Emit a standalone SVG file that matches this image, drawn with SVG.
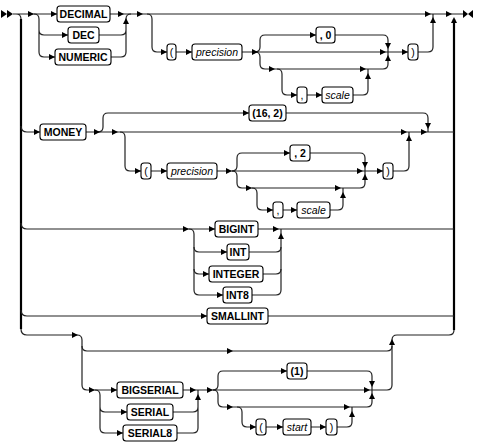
<svg xmlns="http://www.w3.org/2000/svg" xmlns:xlink="http://www.w3.org/1999/xlink" width="479" height="447" viewBox="0 0 479 447">
<style>
.ln{fill:none;stroke:#222;stroke-width:1.2}
.tk{fill:none;stroke:#000;stroke-width:2.2}
.bx{fill:#fff;stroke:#000;stroke-width:1.1}
.kw{font-family:"Liberation Sans",Arial,sans-serif;font-size:10.5px;font-weight:bold;fill:#000;text-anchor:middle}
.pn{font-family:"Liberation Sans",Arial,sans-serif;font-size:10.5px;fill:#000;text-anchor:middle}
.it{font-family:"Liberation Sans",Arial,sans-serif;font-size:10.5px;font-style:italic;fill:#000;text-anchor:middle}
.ar{fill:#000}
</style>
<defs>
<path id="a" class="ar" d="M0,0 L-6,-3 L-6,3 Z"/>
</defs>
<rect width="479" height="447" fill="#fff"/>
<g id="connectors">
<path class="ln" d="M13,14 H57 M110,14 H463 M16,14 Q21,14 21,19"/>
<path class="tk" d="M21,19 V329 M454,19 V330"/>
<path class="ln" d="M34,14 Q39,14 39,19 V30 Q39,35 44,35 H68 M39,30 V52 Q39,57 44,57 H55"/>
<path class="ln" d="M99,35 H121 Q126,35 126,30 V19 Q126,14 131,14 M111,57 H121 Q126,57 126,52 V30"/>
<path class="ln" d="M147,14 Q152,14 152,19 V47 Q152,52 157,52 H167 M176,52 H192 M242,52 H408"/>
<path class="ln" d="M255,52 Q260,52 260,47 V40 Q260,35 265,35 H316 M335,35 H383 Q388,35 388,40 V52"/>
<path class="ln" d="M255,52 Q260,52 260,57 V64 Q260,69 265,69 H383 Q388,69 388,64 V52"/>
<path class="ln" d="M277,69 Q282,69 282,74 V90 Q282,95 287,95 H297 M307,95 H322 M353,95 H363 Q368,95 368,90 V69"/>
<path class="ln" d="M418,52 H428 Q433,52 433,47 V14"/>
<path class="ln" d="M21,126 Q21,132 27,132 H40 M86,132 H454"/>
<path class="ln" d="M98,132 Q103,132 103,127 V118 Q103,113 108,113 H249 M286,113 H423 Q428,113 428,118 V132"/>
<path class="ln" d="M120,132 Q125,132 125,137 V166 Q125,171 130,171 H141 M151,171 H167 M217,171 H383 M393,171 H404 Q409,171 409,166 V132"/>
<path class="ln" d="M232,171 Q237,171 237,166 V158 Q237,153 242,153 H290 M310,153 H360 Q365,153 365,158 V171"/>
<path class="ln" d="M232,171 Q237,171 237,176 V183 Q237,188 242,188 H360 Q365,188 365,183 V171"/>
<path class="ln" d="M252,188 Q257,188 257,193 V205 Q257,210 262,210 H273 M283,210 H297 M330,210 H338 Q343,210 343,205 V188"/>
<path class="ln" d="M21,223 Q21,229 27,229 H215 M258,229 H454"/>
<path class="ln" d="M189,229 Q194,229 194,234 V247 Q194,252 199,252 H227 M249,252 H276 Q281,252 281,247 V229"/>
<path class="ln" d="M194,247 V269 Q194,274 199,274 H209 M263,274 H276 Q281,274 281,269 V247"/>
<path class="ln" d="M194,269 V290 Q194,295 199,295 H223 M252,295 H276 Q281,295 281,290 V269"/>
<path class="ln" d="M21,310 Q21,316 27,316 H207 M268,316 H454"/>
<path class="ln" d="M21,329 Q21,335 27,335 H77 Q82,335 82,340 V385 Q82,390 87,390 H117"/>
<path class="ln" d="M82,346 Q82,351 87,351 H387 Q392,351 392,346"/>
<path class="ln" d="M183,390 H387 Q392,390 392,385 V340 Q392,335 397,335 H449 Q454,335 454,330"/>
<path class="ln" d="M95,390 Q100,390 100,395 V407 Q100,412 105,412 H127 M100,407 V428 Q100,433 105,433 H123"/>
<path class="ln" d="M173,412 H193 Q198,412 198,407 V390 M177,433 H193 Q198,433 198,428 V407"/>
<path class="ln" d="M213,390 Q218,390 218,385 V376 Q218,371 223,371 H287 M307,371 H367 Q372,371 372,376 V390"/>
<path class="ln" d="M213,390 Q218,390 218,395 V402 Q218,407 223,407 H367 Q372,407 372,402 V390"/>
<path class="ln" d="M237,407 Q242,407 242,412 V422 Q242,427 247,427 H256 M266,427 H283 M311,427 H326 M337,427 H347 Q352,427 352,422 V407"/>
<polygon class="ar" points="1,10 7,14 1,18"/>
<polygon class="ar" points="7,10 13,14 7,18"/>
<polygon class="ar" points="463,10 468,14 463,18"/>
<polygon class="ar" points="473,10 468,14 473,18"/>
<use xlink:href="#a" transform="translate(34,14)"/>
<use xlink:href="#a" transform="translate(57,14)"/>
<use xlink:href="#a" transform="translate(68,35)"/>
<use xlink:href="#a" transform="translate(55,57)"/>
<use xlink:href="#a" transform="translate(124,14)"/>
<use xlink:href="#a" transform="translate(126,18) rotate(-90)"/>
<use xlink:href="#a" transform="translate(143,14)"/>
<use xlink:href="#a" transform="translate(167,52)"/>
<use xlink:href="#a" transform="translate(192,52)"/>
<use xlink:href="#a" transform="translate(258,52)"/>
<use xlink:href="#a" transform="translate(316,35)"/>
<use xlink:href="#a" transform="translate(386,52)"/>
<use xlink:href="#a" transform="translate(388,49) rotate(90)"/>
<use xlink:href="#a" transform="translate(388,55) rotate(-90)"/>
<use xlink:href="#a" transform="translate(275,69)"/>
<use xlink:href="#a" transform="translate(297,95)"/>
<use xlink:href="#a" transform="translate(322,95)"/>
<use xlink:href="#a" transform="translate(366,69)"/>
<use xlink:href="#a" transform="translate(368,73) rotate(-90)"/>
<use xlink:href="#a" transform="translate(408,52)"/>
<use xlink:href="#a" transform="translate(431,14)"/>
<use xlink:href="#a" transform="translate(433,17) rotate(-90)"/>
<use xlink:href="#a" transform="translate(452,14)"/>
<use xlink:href="#a" transform="translate(454,17) rotate(-90)"/>
<use xlink:href="#a" transform="translate(40,132)"/>
<use xlink:href="#a" transform="translate(100,132)"/>
<use xlink:href="#a" transform="translate(118,132)"/>
<use xlink:href="#a" transform="translate(249,113)"/>
<use xlink:href="#a" transform="translate(428,129) rotate(90)"/>
<use xlink:href="#a" transform="translate(141,171)"/>
<use xlink:href="#a" transform="translate(167,171)"/>
<use xlink:href="#a" transform="translate(232,171)"/>
<use xlink:href="#a" transform="translate(290,153)"/>
<use xlink:href="#a" transform="translate(363,171)"/>
<use xlink:href="#a" transform="translate(365,168) rotate(90)"/>
<use xlink:href="#a" transform="translate(365,174) rotate(-90)"/>
<use xlink:href="#a" transform="translate(252,188)"/>
<use xlink:href="#a" transform="translate(273,210)"/>
<use xlink:href="#a" transform="translate(297,210)"/>
<use xlink:href="#a" transform="translate(341,188)"/>
<use xlink:href="#a" transform="translate(343,192) rotate(-90)"/>
<use xlink:href="#a" transform="translate(383,171)"/>
<use xlink:href="#a" transform="translate(409,135) rotate(-90)"/>
<use xlink:href="#a" transform="translate(407,132)"/>
<use xlink:href="#a" transform="translate(427,132)"/>
<use xlink:href="#a" transform="translate(189,229)"/>
<use xlink:href="#a" transform="translate(215,229)"/>
<use xlink:href="#a" transform="translate(227,252)"/>
<use xlink:href="#a" transform="translate(209,274)"/>
<use xlink:href="#a" transform="translate(223,295)"/>
<use xlink:href="#a" transform="translate(279,229)"/>
<use xlink:href="#a" transform="translate(281,233) rotate(-90)"/>
<use xlink:href="#a" transform="translate(207,316)"/>
<use xlink:href="#a" transform="translate(78,335)"/>
<use xlink:href="#a" transform="translate(233,351)"/>
<use xlink:href="#a" transform="translate(392,339) rotate(-90)"/>
<use xlink:href="#a" transform="translate(95,390)"/>
<use xlink:href="#a" transform="translate(117,390)"/>
<use xlink:href="#a" transform="translate(127,412)"/>
<use xlink:href="#a" transform="translate(123,433)"/>
<use xlink:href="#a" transform="translate(196,390)"/>
<use xlink:href="#a" transform="translate(198,394) rotate(-90)"/>
<use xlink:href="#a" transform="translate(213,390)"/>
<use xlink:href="#a" transform="translate(287,371)"/>
<use xlink:href="#a" transform="translate(370,390)"/>
<use xlink:href="#a" transform="translate(372,387) rotate(90)"/>
<use xlink:href="#a" transform="translate(372,393) rotate(-90)"/>
<use xlink:href="#a" transform="translate(233,407)"/>
<use xlink:href="#a" transform="translate(256,427)"/>
<use xlink:href="#a" transform="translate(283,427)"/>
<use xlink:href="#a" transform="translate(326,427)"/>
<use xlink:href="#a" transform="translate(350,407)"/>
<use xlink:href="#a" transform="translate(352,411) rotate(-90)"/>
</g>
<g id="n-decimal"><rect class="bx" x="57" y="6" width="53" height="16" rx="3"/><text class="kw" x="83.5" y="17.8">DECIMAL</text></g>
<g id="n-dec"><rect class="bx" x="68" y="27" width="31" height="16" rx="3"/><text class="kw" x="83.5" y="38.8">DEC</text></g>
<g id="n-numeric"><rect class="bx" x="55" y="49" width="56" height="16" rx="3"/><text class="kw" x="83" y="60.8">NUMERIC</text></g>
<g id="n-lp1"><rect class="bx" x="167" y="44" width="9" height="16" rx="3"/><text class="pn" x="171.5" y="55.8">(</text></g>
<g id="n-prec1"><rect class="bx" x="192" y="44" width="50" height="16" rx="3"/><text class="it" x="217" y="55.8">precision</text></g>
<g id="n-c0"><rect class="bx" x="316" y="27" width="19" height="16" rx="3"/><text class="kw" x="325.5" y="38.8">, 0</text></g>
<g id="n-comma1"><rect class="bx" x="297" y="87" width="10" height="16" rx="3"/><text class="pn" x="302" y="98.8">,</text></g>
<g id="n-scale1"><rect class="bx" x="322" y="87" width="31" height="16" rx="3"/><text class="it" x="337.5" y="98.8">scale</text></g>
<g id="n-rp1"><rect class="bx" x="408" y="44" width="10" height="16" rx="3"/><text class="pn" x="413" y="55.8">)</text></g>
<g id="n-money"><rect class="bx" x="40" y="124" width="46" height="16" rx="3"/><text class="kw" x="63" y="135.8">MONEY</text></g>
<g id="n-162"><rect class="bx" x="249" y="105" width="37" height="16" rx="3"/><text class="kw" x="267.5" y="116.8">(16, 2)</text></g>
<g id="n-lp2"><rect class="bx" x="141" y="163" width="10" height="16" rx="3"/><text class="pn" x="146" y="174.8">(</text></g>
<g id="n-prec2"><rect class="bx" x="167" y="163" width="50" height="16" rx="3"/><text class="it" x="192" y="174.8">precision</text></g>
<g id="n-c2"><rect class="bx" x="290" y="145" width="20" height="16" rx="3"/><text class="kw" x="300" y="156.8">, 2</text></g>
<g id="n-comma2"><rect class="bx" x="273" y="202" width="10" height="16" rx="3"/><text class="pn" x="278" y="213.8">,</text></g>
<g id="n-scale2"><rect class="bx" x="297" y="202" width="33" height="16" rx="3"/><text class="it" x="313.5" y="213.8">scale</text></g>
<g id="n-rp2"><rect class="bx" x="383" y="163" width="10" height="16" rx="3"/><text class="pn" x="388" y="174.8">)</text></g>
<g id="n-bigint"><rect class="bx" x="215" y="221" width="43" height="16" rx="3"/><text class="kw" x="236.5" y="232.8">BIGINT</text></g>
<g id="n-int"><rect class="bx" x="227" y="244" width="22" height="16" rx="3"/><text class="kw" x="238" y="255.8">INT</text></g>
<g id="n-integer"><rect class="bx" x="209" y="266" width="54" height="16" rx="3"/><text class="kw" x="236" y="277.8">INTEGER</text></g>
<g id="n-int8"><rect class="bx" x="223" y="287" width="29" height="16" rx="3"/><text class="kw" x="237.5" y="298.8">INT8</text></g>
<g id="n-smallint"><rect class="bx" x="207" y="308" width="61" height="16" rx="3"/><text class="kw" x="237.5" y="319.8">SMALLINT</text></g>
<g id="n-bigserial"><rect class="bx" x="117" y="382" width="66" height="16" rx="3"/><text class="kw" x="150" y="393.8">BIGSERIAL</text></g>
<g id="n-serial"><rect class="bx" x="127" y="404" width="46" height="16" rx="3"/><text class="kw" x="150" y="415.8">SERIAL</text></g>
<g id="n-serial8"><rect class="bx" x="123" y="425" width="54" height="16" rx="3"/><text class="kw" x="150" y="436.8">SERIAL8</text></g>
<g id="n-one"><rect class="bx" x="287" y="363" width="20" height="16" rx="3"/><text class="kw" x="297" y="374.8">(1)</text></g>
<g id="n-lp3"><rect class="bx" x="256" y="419" width="10" height="16" rx="3"/><text class="pn" x="261" y="430.8">(</text></g>
<g id="n-start"><rect class="bx" x="283" y="419" width="28" height="16" rx="3"/><text class="it" x="297" y="430.8">start</text></g>
<g id="n-rp3"><rect class="bx" x="326" y="419" width="11" height="16" rx="3"/><text class="pn" x="331.5" y="430.8">)</text></g>
</svg>
